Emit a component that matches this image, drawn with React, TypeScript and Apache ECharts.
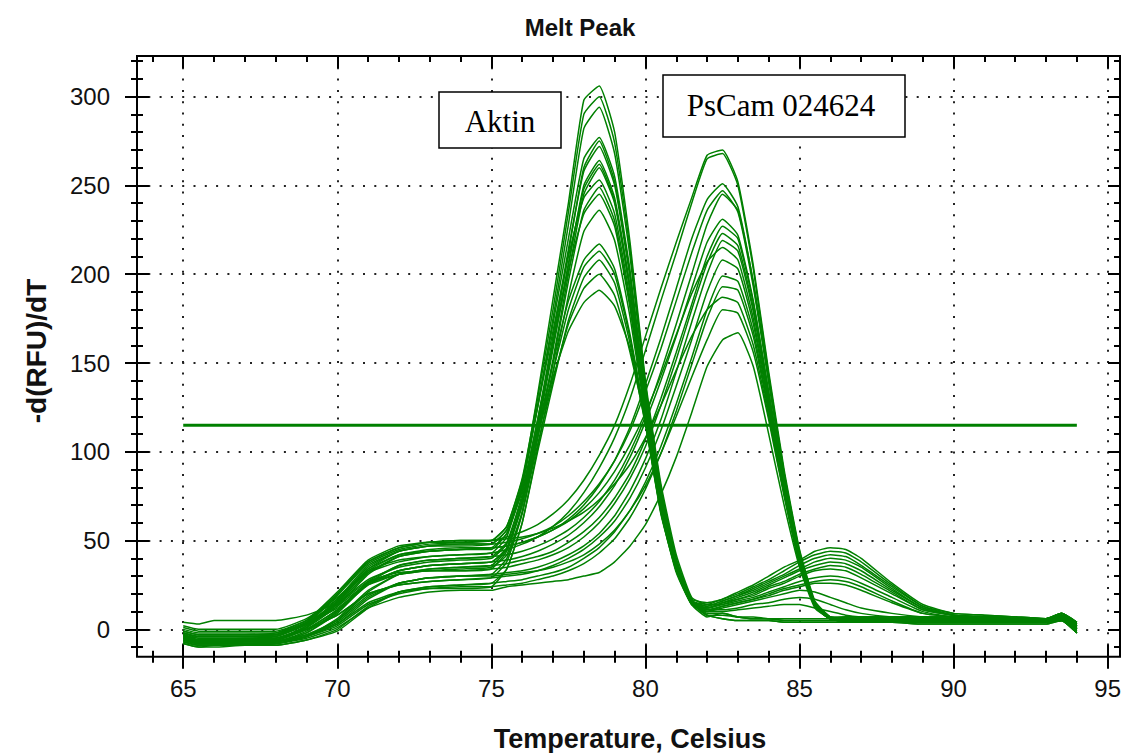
import React, { useEffect, useRef } from "react";
import * as echarts from "echarts";

// Temperature grid (°C) shared by every melt curve
const TEMPS = [65, 65.5, 66, 67, 68, 69, 70, 71, 72, 73, 74, 75, 75.5, 76, 76.5, 77, 77.5, 78, 78.5, 79, 79.5, 80, 80.5, 81, 81.5, 82, 82.5, 83, 83.5, 84, 84.5, 85, 85.5, 86, 86.5, 87, 88, 89, 90, 91, 92, 93, 93.5, 94];

// Aktin melt curves (-d(RFU)/dT), peak near 78.5 °C
const aktin01 = [2, 0, 0, 0, 0, 6, 18, 33, 39, 41, 42, 43, 52, 82, 132, 186, 240, 298, 306, 280, 218, 140, 82, 42, 18, 14, 14, 16, 18, 21, 24, 27, 29, 30, 29, 26, 18, 10, 7, 7, 6, 5, 8, 3];
const aktin02 = [-2, -4, -4, -4, -3, 4, 20, 38, 46, 49, 50, 50, 58, 85, 130, 180, 235, 290, 300, 274, 214, 138, 80, 40, 17, 15, 17, 21, 25, 30, 35, 39, 44, 46, 45, 40, 26, 14, 9, 8, 7, 6, 9, 3];
const aktin03 = [-3, -6, -6, -5, -5, 2, 14, 32, 41, 44, 45, 46, 54, 80, 125, 175, 228, 282, 294, 268, 210, 135, 78, 39, 17, 9, 9, 7, 6, 6, 5, 5, 5, 5, 5, 5, 5, 5, 5, 5, 5, 4, 6, 0];
const aktin04 = [-5, -7, -7, -7, -6, 1, 16, 35, 44, 47, 48, 48, 56, 82, 126, 172, 220, 265, 277, 255, 202, 132, 77, 38, 16, 13, 16, 19, 23, 27, 31, 36, 40, 42, 41, 36, 24, 13, 8, 7, 7, 6, 8, 4];
const aktin05 = [-4, -7, -7, -6, -6, 0, 11, 26, 33, 36, 37, 38, 46, 72, 115, 162, 212, 260, 275, 252, 200, 130, 76, 38, 16, 10, 12, 14, 16, 18, 20, 22, 21, 18, 15, 12, 9, 7, 6, 6, 5, 5, 7, 2];
const aktin06 = [-6, -8, -8, -8, -7, -2, 10, 27, 36, 39, 40, 41, 49, 76, 118, 165, 214, 258, 272, 250, 198, 129, 75, 37, 16, 12, 15, 18, 21, 25, 29, 33, 36, 38, 37, 33, 22, 12, 8, 7, 6, 6, 7, 0];
const aktin07 = [-1, -3, -3, -3, -3, 3, 13, 26, 31, 33, 33, 34, 44, 70, 112, 158, 205, 250, 264, 243, 193, 127, 74, 37, 16, 8, 6, 5, 5, 5, 4, 4, 4, 4, 4, 4, 4, 4, 4, 4, 4, 4, 5, -2];
const aktin08 = [-7, -9, -9, -9, -8, -4, 6, 22, 31, 34, 35, 36, 45, 72, 114, 160, 206, 248, 262, 241, 192, 126, 74, 36, 15, 12, 14, 17, 19, 23, 26, 30, 33, 34, 33, 29, 20, 11, 8, 7, 6, 5, 7, 2];
const aktin09 = [-3, -6, -6, -6, -5, 0, 8, 20, 25, 27, 28, 29, 38, 65, 108, 152, 200, 245, 260, 240, 190, 125, 73, 36, 16, 11, 13, 15, 17, 19, 22, 24, 26, 26, 25, 22, 15, 9, 7, 6, 6, 5, 6, -1];
const aktin10 = [-1, -3, -3, -3, -2, 5, 21, 39, 47, 49, 49, 50, 58, 84, 125, 168, 210, 243, 253, 234, 186, 123, 72, 36, 15, 8, 8, 7, 7, 6, 6, 6, 6, 6, 6, 6, 6, 6, 6, 6, 5, 5, 7, 2];
const aktin11 = [-5, -8, -8, -8, -8, -4, 4, 18, 26, 29, 30, 31, 40, 66, 108, 150, 196, 236, 249, 230, 183, 122, 71, 35, 16, 14, 17, 20, 24, 28, 33, 38, 42, 44, 43, 38, 25, 13, 9, 8, 7, 6, 8, 1];
const aktin12 = [-2, -5, -5, -5, -4, 3, 15, 33, 42, 44, 45, 45, 54, 78, 118, 160, 202, 234, 245, 227, 181, 121, 71, 35, 15, 10, 10, 11, 12, 13, 14, 14, 12, 10, 8, 7, 6, 6, 5, 5, 5, 4, 6, 4];
const aktin13 = [-6, -8, -8, -8, -7, -4, 2, 14, 20, 23, 23, 24, 34, 60, 102, 145, 188, 224, 236, 219, 176, 120, 70, 35, 16, 13, 16, 19, 22, 26, 30, 34, 38, 40, 39, 35, 23, 12, 8, 7, 6, 6, 8, 3];
const aktin14 = [4, 3, 5, 5, 5, 8, 15, 28, 35, 38, 39, 40, 48, 74, 112, 150, 185, 208, 217, 203, 166, 118, 68, 34, 15, 8, 6, 5, 5, 5, 4, 4, 4, 4, 4, 4, 4, 4, 4, 4, 4, 4, 5, -2];
const aktin15 = [-5, -8, -8, -7, -7, -1, 10, 25, 33, 36, 37, 38, 45, 70, 108, 145, 180, 204, 213, 200, 164, 118, 67, 34, 15, 11, 11, 12, 14, 15, 17, 18, 17, 14, 11, 9, 7, 6, 6, 5, 5, 5, 6, 1];
const aktin16 = [-8, -10, -9, -9, -9, -6, 0, 13, 21, 24, 25, 26, 34, 60, 100, 138, 174, 198, 208, 195, 161, 117, 66, 33, 14, 12, 15, 17, 20, 24, 27, 31, 34, 36, 35, 31, 21, 11, 8, 7, 6, 5, 7, 1];
const aktin17 = [0, -2, -2, -2, -2, 4, 14, 27, 32, 33, 34, 35, 42, 66, 104, 140, 172, 192, 200, 188, 156, 116, 65, 33, 14, 7, 9, 7, 6, 6, 5, 5, 5, 5, 5, 5, 5, 5, 5, 5, 5, 4, 6, 0];
const aktin18 = [-4, -7, -7, -6, -6, 2, 17, 36, 44, 47, 47, 48, 56, 78, 110, 142, 168, 184, 191, 182, 158, 115, 66, 32, 14, 10, 13, 15, 17, 20, 23, 25, 27, 28, 27, 24, 16, 9, 7, 6, 6, 5, 7, 2];

// PsCam 024624 melt curves, peak near 82.5 °C
const pscam01 = [-3, -5, -5, -5, -4, 3, 19, 37, 45, 48, 49, 50, 52, 55, 59, 65, 73, 84, 98, 115, 138, 165, 192, 218, 243, 267, 270, 252, 205, 145, 90, 45, 16, 7, 6, 6, 6, 6, 6, 6, 5, 5, 8, 2];
const pscam02 = [1, -1, -1, -1, -1, 5, 17, 32, 38, 41, 42, 43, 45, 48, 52, 58, 66, 77, 91, 108, 130, 157, 185, 212, 240, 265, 268, 250, 203, 143, 88, 44, 15, 7, 5, 5, 5, 5, 5, 5, 5, 4, 6, 0];
const pscam03 = [-3, -6, -6, -6, -5, 1, 13, 31, 41, 44, 45, 46, 47, 49, 52, 56, 62, 70, 81, 95, 114, 138, 164, 192, 220, 242, 251, 238, 195, 140, 87, 43, 15, 7, 7, 7, 7, 7, 7, 6, 6, 6, 9, 4];
const pscam04 = [-5, -7, -7, -7, -6, 1, 15, 34, 44, 47, 48, 48, 49, 51, 54, 58, 64, 72, 82, 95, 112, 134, 158, 185, 212, 236, 247, 235, 193, 139, 86, 42, 15, 6, 5, 5, 5, 4, 4, 4, 4, 4, 5, -2];
const pscam05 = [-6, -8, -8, -8, -7, -2, 9, 26, 36, 39, 40, 41, 42, 44, 47, 51, 56, 63, 72, 84, 100, 120, 145, 172, 200, 228, 245, 236, 196, 142, 88, 43, 15, 7, 6, 6, 6, 6, 5, 5, 5, 5, 7, 3];
const pscam06 = [-4, -7, -7, -6, -6, 0, 11, 26, 33, 36, 37, 38, 39, 41, 44, 48, 53, 60, 69, 81, 97, 117, 140, 165, 192, 218, 231, 222, 185, 134, 84, 41, 14, 6, 4, 4, 4, 3, 3, 3, 3, 3, 5, 1];
const pscam07 = [-7, -9, -9, -9, -8, -4, 5, 21, 31, 34, 35, 36, 37, 39, 41, 44, 49, 55, 63, 74, 88, 107, 130, 156, 183, 210, 227, 220, 184, 133, 83, 41, 14, 6, 6, 6, 6, 6, 6, 6, 5, 5, 8, 2];
const pscam08 = [-1, -3, -3, -3, -3, 3, 12, 25, 31, 33, 33, 34, 35, 37, 39, 42, 46, 52, 60, 71, 85, 103, 126, 152, 180, 206, 223, 216, 181, 131, 82, 40, 14, 6, 5, 5, 5, 5, 5, 5, 5, 4, 6, 0];
const pscam09 = [-5, -8, -8, -8, -8, -4, 3, 17, 26, 29, 30, 31, 32, 33, 35, 38, 42, 47, 54, 64, 78, 96, 118, 145, 173, 200, 219, 213, 179, 130, 81, 40, 14, 6, 7, 7, 7, 7, 7, 6, 6, 6, 9, 4];
const pscam10 = [-2, -4, -4, -4, -4, 3, 16, 34, 42, 45, 46, 46, 47, 49, 52, 56, 61, 68, 77, 89, 104, 122, 143, 166, 189, 207, 215, 208, 175, 128, 80, 39, 13, 6, 5, 5, 5, 4, 4, 4, 4, 4, 5, -2];
const pscam11 = [-3, -6, -6, -6, -5, 0, 8, 20, 25, 27, 28, 29, 30, 31, 33, 36, 40, 45, 52, 61, 74, 91, 112, 137, 163, 190, 208, 203, 172, 126, 79, 39, 13, 6, 6, 6, 6, 6, 5, 5, 5, 5, 7, 3];
const pscam12 = [-8, -10, -10, -9, -9, -6, -1, 12, 21, 24, 25, 26, 27, 28, 30, 32, 35, 40, 46, 55, 67, 83, 103, 127, 153, 180, 199, 196, 168, 124, 78, 38, 13, 6, 4, 4, 4, 3, 3, 3, 3, 3, 5, 1];
const pscam13 = [-6, -8, -8, -8, -7, -3, 3, 15, 21, 23, 24, 24, 25, 26, 28, 30, 33, 37, 43, 51, 63, 79, 99, 123, 149, 175, 193, 191, 165, 122, 77, 38, 13, 6, 6, 6, 6, 6, 6, 6, 5, 5, 8, 2];
const pscam14 = [-2, -4, -4, -4, -3, 4, 20, 38, 46, 49, 50, 50, 51, 52, 54, 57, 61, 66, 73, 82, 93, 108, 126, 146, 165, 180, 187, 184, 160, 120, 76, 37, 13, 6, 7, 7, 7, 7, 7, 6, 6, 6, 9, 4];
const pscam15 = [-4, -7, -7, -7, -7, -3, 5, 19, 26, 29, 30, 30, 31, 32, 33, 35, 38, 42, 48, 56, 67, 81, 99, 120, 142, 163, 180, 178, 156, 118, 75, 37, 13, 6, 5, 5, 5, 5, 5, 5, 5, 4, 6, 0];
const pscam16 = [-7, -9, -9, -9, -8, -5, 1, 12, 18, 21, 22, 22, 24, 25, 26, 27, 28, 30, 32, 38, 47, 59, 76, 97, 122, 148, 163, 167, 148, 110, 70, 35, 12, 6, 5, 5, 5, 4, 4, 4, 4, 4, 5, -2];

const AKTIN_CURVES = [aktin01, aktin02, aktin03, aktin04, aktin05, aktin06, aktin07, aktin08, aktin09, aktin10, aktin11, aktin12, aktin13, aktin14, aktin15, aktin16, aktin17, aktin18];
const PSCAM_CURVES = [pscam01, pscam02, pscam03, pscam04, pscam05, pscam06, pscam07, pscam08, pscam09, pscam10, pscam11, pscam12, pscam13, pscam14, pscam15, pscam16];

// Threshold line
const THRESHOLD = 115;
const THRESHOLD_TEMPS = [65, 94];

// Axes
const X_RANGE = [63.5, 95.4];
const Y_RANGE = [-15.4, 322.9];
const X_MAJOR_TICKS = [65, 70, 75, 80, 85, 90, 95];
const X_MINOR_TICKS = [64, 66, 67, 68, 69, 71, 72, 73, 74, 76, 77, 78, 79, 81, 82, 83, 84, 86, 87, 88, 89, 91, 92, 93, 94];
const Y_MAJOR_TICKS = [0, 50, 100, 150, 200, 250, 300];
const Y_MINOR_TICKS = [-10, 10, 20, 30, 40, 60, 70, 80, 90, 110, 120, 130, 140, 160, 170, 180, 190, 210, 220, 230, 240, 260, 270, 280, 290, 310, 320];

const TITLE = "Melt Peak";
const X_TITLE = "Temperature, Celsius";
const Y_TITLE = "-d(RFU)/dT";
const LABEL_AKTIN = "Aktin";
const LABEL_PSCAM = "PsCam 024624";

const GREEN = "#008000";
const SANS = "'Liberation Sans', Arial, sans-serif";
const SERIF = "'Liberation Serif', 'Times New Roman', serif";

function axisDef(
  dim: "x" | "y",
  position: string,
  ticks: number[],
  inside: boolean,
  length: number,
  main: boolean
) {
  const range = dim === "x" ? X_RANGE : Y_RANGE;
  return {
    type: "value",
    gridIndex: 0,
    position,
    min: range[0],
    max: range[1],
    axisLine: { show: false, onZero: false },
    axisTick: {
      show: true,
      inside,
      length,
      customValues: ticks,
      lineStyle: { color: "#000", width: 2 },
    },
    axisLabel: main
      ? {
          show: true,
          customValues: dim === "x" ? X_MAJOR_TICKS : Y_MAJOR_TICKS,
          margin: dim === "x" ? 20 : 27,
          color: "#111",
          fontSize: 24,
          fontFamily: SANS,
        }
      : { show: false },
    splitLine: main
      ? {
          show: true,
          lineStyle: { color: "#222", width: 2, type: [2, 9.3] },
        }
      : { show: false },
    minorTick: { show: false },
    minorSplitLine: { show: false },
    axisPointer: { show: false },
  };
}

export default function App() {
  const ref = useRef<HTMLDivElement>(null);

  useEffect(() => {
    if (!ref.current) return;
    const chart = echarts.init(ref.current, undefined, { renderer: "svg" });

    const curveSeries = [
      ...AKTIN_CURVES.map((vals, i) => ({ name: `Aktin ${i + 1}`, vals })),
      ...PSCAM_CURVES.map((vals, i) => ({ name: `PsCam ${i + 1}`, vals })),
    ].map(({ name, vals }) => ({
      type: "line",
      name,
      data: TEMPS.map((t, j) => [t, vals[j]]),
      showSymbol: false,
      symbol: "none",
      smooth: 0.15,
      silent: true,
      z: 3,
      lineStyle: { color: GREEN, width: 1.5 },
    }));

    const option: any = {
      animation: false,
      backgroundColor: "#fff",
      grid: {
        left: 137,
        top: 56,
        right: 7,
        bottom: 96.3,
        show: true,
        borderColor: "#000",
        borderWidth: 2,
        backgroundColor: "transparent",
        containLabel: false,
        outerBoundsMode: "none",
      },
      xAxis: [
        axisDef("x", "bottom", X_MAJOR_TICKS, false, 12, true),
        axisDef("x", "bottom", X_MAJOR_TICKS, true, 12, false),
        axisDef("x", "bottom", X_MINOR_TICKS, false, 6, false),
        axisDef("x", "bottom", X_MINOR_TICKS, true, 6, false),
        axisDef("x", "top", X_MAJOR_TICKS, true, 12, false),
        axisDef("x", "top", X_MINOR_TICKS, true, 6, false),
      ],
      yAxis: [
        axisDef("y", "left", Y_MAJOR_TICKS, false, 12, true),
        axisDef("y", "left", Y_MAJOR_TICKS, true, 12, false),
        axisDef("y", "left", Y_MINOR_TICKS, false, 6, false),
        axisDef("y", "left", Y_MINOR_TICKS, true, 6, false),
        axisDef("y", "right", Y_MAJOR_TICKS, true, 12, false),
        axisDef("y", "right", Y_MINOR_TICKS, true, 6, false),
      ],
      series: [
        ...curveSeries,
        {
          type: "line",
          name: "Threshold",
          data: THRESHOLD_TEMPS.map((t) => [t, THRESHOLD]),
          showSymbol: false,
          symbol: "none",
          silent: true,
          z: 4,
          lineStyle: { color: GREEN, width: 3 },
        },
      ],
      graphic: [
        {
          type: "text",
          x: 580,
          y: 27,
          z: 100,
          style: {
            text: TITLE,
            fill: "#111",
            font: `bold 24px ${SANS}`,
            align: "center",
            verticalAlign: "middle",
            textAlign: "center",
            textVerticalAlign: "middle",
          },
        },
        {
          type: "text",
          x: 630,
          y: 739,
          z: 100,
          style: {
            text: X_TITLE,
            fill: "#111",
            font: `bold 27px ${SANS}`,
            align: "center",
            verticalAlign: "middle",
            textAlign: "center",
            textVerticalAlign: "middle",
          },
        },
        {
          type: "text",
          x: 36,
          y: 351,
          rotation: Math.PI / 2,
          z: 100,
          style: {
            text: Y_TITLE,
            fill: "#111",
            font: `bold 28px ${SANS}`,
            align: "center",
            verticalAlign: "middle",
            textAlign: "center",
            textVerticalAlign: "middle",
          },
        },
        {
          type: "rect",
          z: 100,
          shape: { x: 439, y: 92, width: 122, height: 56 },
          style: { fill: "#fff", stroke: "#000", lineWidth: 1.5 },
        },
        {
          type: "text",
          x: 500,
          y: 121,
          z: 101,
          style: {
            text: LABEL_AKTIN,
            fill: "#000",
            font: `31px ${SERIF}`,
            align: "center",
            verticalAlign: "middle",
            textAlign: "center",
            textVerticalAlign: "middle",
          },
        },
        {
          type: "rect",
          z: 100,
          shape: { x: 663, y: 75, width: 242, height: 62 },
          style: { fill: "#fff", stroke: "#000", lineWidth: 1.5 },
        },
        {
          type: "text",
          x: 781,
          y: 105,
          z: 101,
          style: {
            text: LABEL_PSCAM,
            fill: "#000",
            font: `31px ${SERIF}`,
            align: "center",
            verticalAlign: "middle",
            textAlign: "center",
            textVerticalAlign: "middle",
          },
        },
      ],
    };

    chart.setOption(option);
    return () => chart.dispose();
  }, []);

  return (
    <div
      ref={ref}
      style={{ position: "absolute", left: 0, top: 0, width: 1127, height: 753 }}
    />
  );
}
